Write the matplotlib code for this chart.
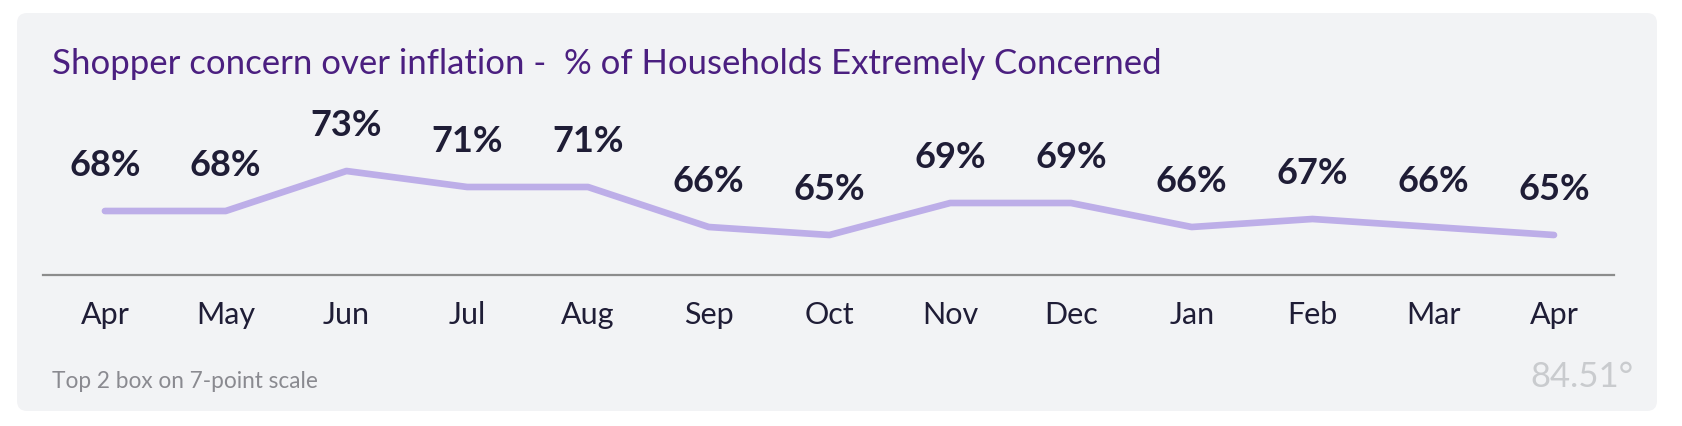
import matplotlib
matplotlib.use("Agg")
from matplotlib import pyplot as plt
from matplotlib.patches import FancyBboxPatch

months = ["Apr", "May", "Jun", "Jul", "Aug", "Sep", "Oct",
          "Nov", "Dec", "Jan", "Feb", "Mar", "Apr"]
concern = [68, 68, 73, 71, 71, 66, 65, 69, 69, 66, 67, 66, 65]

title = "Shopper concern over inflation -  % of Households Extremely Concerned"
footnote = "Top 2 box on 7-point scale"

W, H = 1683, 426
plt.rcParams["font.family"] = ["Lato", "DejaVu Sans"]

fig = plt.figure(figsize=(W / 100, H / 100), dpi=100)
fig.patch.set_facecolor("white")

# grey card behind everything
card = FancyBboxPatch((17 / W, 1 - 411 / H), (1657 - 17) / W, (411 - 13) / H,
                      boxstyle="round,pad=0,rounding_size=0.006",
                      mutation_aspect=W / H,
                      transform=fig.transFigure, facecolor="#f2f3f5",
                      edgecolor="none", zorder=-10)
fig.patches.append(card)

ax = fig.add_axes([43 / W, 151 / H, (1614 - 43) / W, 250 / H])
ax.set_zorder(2)
ax.set_facecolor("none")
ax.plot(range(len(months)), concern, color="#bdaee8", lw=4.8,
        solid_capstyle="round", solid_joinstyle="round")
for i, v in enumerate(concern):
    ax.annotate(f"{v}%", (i, v), xytext=(0, 33), textcoords="offset points",
                ha="center", va="center", fontsize=26, fontweight="bold",
                color="#1f1d36")

ax.set_xlim(-0.513, 12.497)
ax.set_ylim(60, 91.25)
ax.set_xticks(range(len(months)))
ax.set_xticklabels(months, fontsize=22, color="#1f1d36")
ax.tick_params(axis="x", length=0, pad=19)
ax.set_yticks([])
for s in ["top", "left", "right"]:
    ax.spines[s].set_visible(False)
ax.spines["bottom"].set_color("#8c8c8c")
ax.spines["bottom"].set_linewidth(1.6)

fig.text(52 / W, 1 - 74 / H, title, fontsize=25, color="#4b1f80",
         va="baseline", ha="left")
fig.text(52 / W, 1 - 388 / H, footnote, fontsize=16.3, color="#8a8a90",
         va="baseline", ha="left")
fig.text(1634 / W, 1 - 387 / H, "84.51°", fontsize=25, color="#c9cbce",
         va="baseline", ha="right")

fig.savefig("out.png", dpi=100, facecolor=fig.get_facecolor())
